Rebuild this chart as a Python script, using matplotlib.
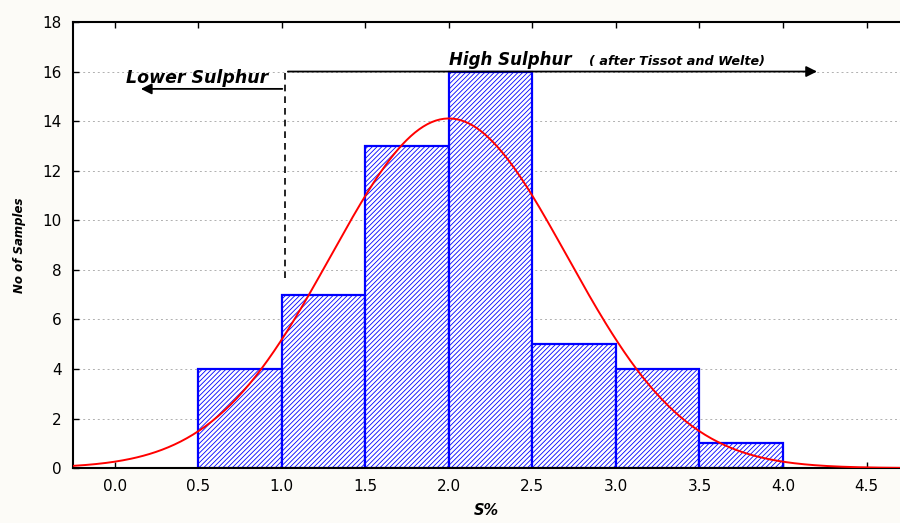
import numpy as np
import matplotlib
matplotlib.use('Agg')
import matplotlib.pyplot as plt

# histogram of S% (bins of 0.5)
bin_edges = [0.5, 1.0, 1.5, 2.0, 2.5, 3.0, 3.5, 4.0]
counts = [4, 7, 13, 16, 5, 4, 1]

# fitted normal curve parameters
fit_mean = 2.0
fit_sd = 0.707
n_samples = sum(counts)
bin_width = 0.5

x_ticks = [0.0, 0.5, 1.0, 1.5, 2.0, 2.5, 3.0, 3.5, 4.0, 4.5]
y_ticks = [0, 2, 4, 6, 8, 10, 12, 14, 16, 18]

plt.rcParams['font.family'] = ['DejaVu Sans']
plt.rcParams['hatch.color'] = '#0000ff'
plt.rcParams['hatch.linewidth'] = 0.6

fig = plt.figure(figsize=(9, 5.23), dpi=100, facecolor='#fcfbf7')
ax = fig.add_axes([0.081, 0.105, 0.919, 0.853])
ax.set_facecolor('white')

lefts = bin_edges[:-1]
ax.bar(lefts, counts, width=bin_width, align='edge', color='white',
       edgecolor='#0000ff', linewidth=1.6, hatch='///////', zorder=2)

xs = np.linspace(-0.25, 4.7, 400)
curve = n_samples * bin_width / (fit_sd * np.sqrt(2 * np.pi)) * \
    np.exp(-0.5 * ((xs - fit_mean) / fit_sd) ** 2)
ax.plot(xs, curve, color='#ff0000', linewidth=1.4, zorder=3)

# annotations
bold_it = dict(fontweight='bold', fontstyle='italic', va='center', ha='left')
ax.plot([1.02, 1.02], [7.65, 16.0], color='black', linestyle=(0, (4, 3)),
        linewidth=1.2, zorder=4)
ax.annotate('', xy=(0.14, 15.3), xytext=(1.02, 15.3),
            arrowprops=dict(arrowstyle='-|>', color='black', lw=1.3,
                            mutation_scale=16), zorder=4)
ax.annotate('', xy=(4.22, 16.0), xytext=(1.02, 16.0),
            arrowprops=dict(arrowstyle='-|>', color='black', lw=1.3,
                            mutation_scale=16), zorder=4)
ax.text(0.07, 15.75, 'Lower Sulphur', fontsize=12.5, **bold_it)
ax.text(2.0, 16.45, 'High Sulphur', fontsize=12, **bold_it)
ax.text(2.84, 16.4, '( after Tissot and Welte)', fontsize=9.2, **bold_it)

ax.set_xlim(-0.25, 4.7)
ax.set_ylim(0, 18)
ax.set_xticks(x_ticks)
ax.set_xticklabels([f'{v:.1f}' for v in x_ticks])
ax.set_yticks(y_ticks)
ax.tick_params(direction='in', top=True, right=False, labelsize=11,
               length=4, width=1, pad=8)
ax.grid(axis='y', color='#b0b0b0', linestyle=(0, (2, 3)), linewidth=0.7,
        zorder=0)
for s in ax.spines.values():
    s.set_linewidth(1.5)
ax.spines['right'].set_visible(False)

ax.set_xlabel('S%', fontsize=10.5, fontweight='bold', fontstyle='italic',
              labelpad=6)
ax.set_ylabel('No of Samples', fontsize=8.5, fontweight='bold',
              fontstyle='italic', labelpad=12)

fig.savefig('out.png', dpi=100, facecolor=fig.get_facecolor())
